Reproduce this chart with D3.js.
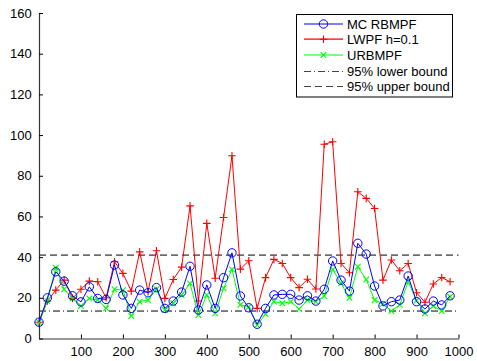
<!DOCTYPE html>
<html><head><meta charset="utf-8">
<script src="https://cdn.jsdelivr.net/npm/d3@7"></script>
<style>body{margin:0;background:#fff}svg{display:block}text{font-family:"Liberation Sans",Arial,sans-serif}</style>
</head><body>
<svg id="c" width="477" height="361"></svg>
<script>
const xVals = [0,20,40,60,80,100,120,140,160,180,200,220,240,260,280,300,320,340,360,380,400,420,440,460,480,500,520,540,560,580,600,620,640,660,680,700,720,740,760,780,800,820,840,860,880,900,920,940,960,980];
const mcRbmpf = [8,20,32.8,28.2,21,18,25.4,19.7,19.2,36.1,21.4,14.8,23.8,22.5,25,14.8,18.4,22.8,35.5,14,26.3,14.8,29.9,42.1,20.9,15.1,7,14.8,21.4,21.7,21.7,18.9,21,18.4,24.2,38.1,28.7,23.3,46.8,41.5,25.8,16,18.1,18.9,30.7,18.1,14.5,18.4,16.5,21];
const lwpf = [8,18.4,23.8,28.7,19.7,24.2,28.2,27.9,20,37.7,32,23.3,42.6,23,43.1,19.7,29,35.1,65.2,18.4,56.6,29.6,59.5,89.8,34.1,38.2,14.8,29.9,38.9,36.9,29.9,25,29.1,24.3,95.5,96.7,36.9,32.3,72.1,68.9,63.9,28.7,38.6,33.3,36.9,22.5,17.8,26.8,30,27.9];
const urbmpf = [8,18.4,34.8,24.2,19.7,16,19.7,18.9,14.8,24.2,23.8,11,18.1,18.9,24.2,14,17.3,21.4,27.1,11.5,21.4,12.4,24.7,34,16.5,15.6,6.6,12,18.1,17.3,18.1,14.5,18.9,18.1,20.9,34,27.1,20,35.3,29,18.9,17,13.5,16.5,27.9,18.6,12.4,16,13.5,20.5];
const lowerBound = 13.5;
const upperBound = 41;
const xTicks = [100,200,300,400,500,600,700,800,900,1000];
const yTicks = [0,20,40,60,80,100,120,140,160];
const legendLabels = ["MC RBMPF","LWPF h=0.1","URBMPF","95% lower bound","95% upper bound"];

const svg = d3.select("#c");
const x = d3.scaleLinear().domain([0,1000]).range([39,458.5]);
const y = d3.scaleLinear().domain([0,160]).range([338.5,13]);

// bounds
svg.append("line").attr("x1",x(0)).attr("x2",x(1000)).attr("y1",y(lowerBound)).attr("y2",y(lowerBound))
  .attr("stroke","#000").attr("stroke-width",1).attr("stroke-dasharray","7,3,1,3");
svg.append("line").attr("x1",x(0)).attr("x2",x(1000)).attr("y1",y(upperBound)).attr("y2",y(upperBound))
  .attr("stroke","#000").attr("stroke-width",1).attr("stroke-dasharray","7,4");

// axes
const xAxis = svg.append("g").attr("transform",`translate(0,${y(0)})`)
  .call(d3.axisBottom(x).tickValues(xTicks).tickFormat(d3.format("d")).tickSizeInner(-4).tickSizeOuter(0).tickPadding(8));
const yAxis = svg.append("g").attr("transform",`translate(${x(0)},0)`)
  .call(d3.axisLeft(y).tickValues(yTicks).tickFormat(d3.format("d")).tickSizeInner(-4).tickSizeOuter(0).tickPadding(6));
[xAxis,yAxis].forEach(g=>{
  g.select(".domain").attr("stroke","#333").attr("stroke-width",1.2);
  g.selectAll(".tick line").attr("stroke","#000");
  g.selectAll("text").attr("font-size",13).attr("fill","#000").attr("font-family","'Liberation Sans',Arial,sans-serif");
});
yAxis.selectAll(".tick text").attr("dx","-0.1em");

const series = [
  {vals: lwpf, color:"#ff0000", marker:"plus"},
  {vals: urbmpf, color:"#00ff00", marker:"x"},
  {vals: mcRbmpf, color:"#0000ff", marker:"circle"}
];
function drawMarker(g, type, cx, cy, color){
  if(type==="circle"){
    g.append("circle").attr("cx",cx).attr("cy",cy).attr("r",4.2).attr("fill","none").attr("stroke",color).attr("stroke-width",1);
  } else if(type==="plus"){
    const s=3.8;
    g.append("path").attr("d",`M${cx-s},${cy}H${cx+s}M${cx},${cy-s}V${cy+s}`).attr("stroke",color).attr("stroke-width",1.1).attr("fill","none");
  } else {
    const s=2.8;
    g.append("path").attr("d",`M${cx-s},${cy-s}L${cx+s},${cy+s}M${cx-s},${cy+s}L${cx+s},${cy-s}`).attr("stroke",color).attr("stroke-width",1.1).attr("fill","none");
  }
}
const line = d3.line().x((d,i)=>x(xVals[i])).y(d=>y(d));
series.forEach(s=>{
  svg.append("path").datum(s.vals).attr("d",line).attr("fill","none").attr("stroke",s.color).attr("stroke-width",1);
  const mg = svg.append("g");
  s.vals.forEach((v,i)=>drawMarker(mg,s.marker,x(xVals[i]),y(v),s.color));
});

// legend
const lg = svg.append("g");
lg.append("rect").attr("x",296.5).attr("y",14.5).attr("width",156).attr("height",82.5).attr("fill","#fff").attr("stroke","#000").attr("stroke-width",1);
const legendStyles = [
  {color:"#0000ff", marker:"circle", dash:null},
  {color:"#ff0000", marker:"plus", dash:null},
  {color:"#00ff00", marker:"x", dash:null},
  {color:"#444", marker:null, dash:"7,3,1,3"},
  {color:"#444", marker:null, dash:"7,4"}
];
const rowY = [24,39.2,55,71.5,86.5];
legendLabels.forEach((lab,i)=>{
  const st = legendStyles[i];
  const ln = lg.append("line").attr("x1",304).attr("x2",343).attr("y1",rowY[i]).attr("y2",rowY[i]).attr("stroke",st.color).attr("stroke-width",1.2);
  if(st.dash) ln.attr("stroke-dasharray",st.dash).attr("stroke-width",1);
  if(st.marker) drawMarker(lg,st.marker,323.5,rowY[i],st.color);
  lg.append("text").attr("x",347).attr("y",rowY[i]).attr("dy","0.36em").attr("font-size",13).attr("fill","#000").text(lab);
});
</script>
</body></html>
